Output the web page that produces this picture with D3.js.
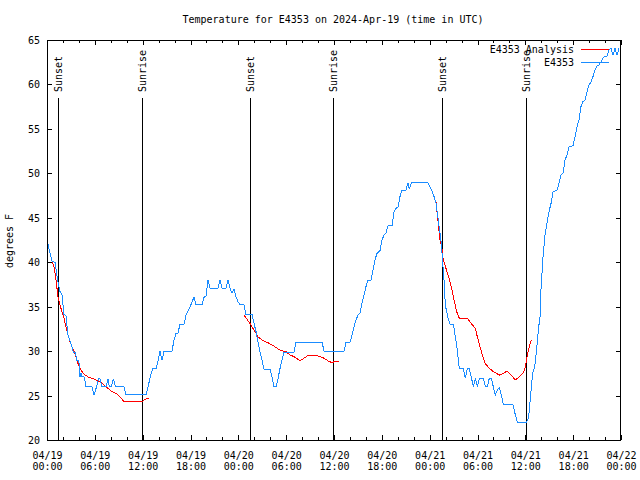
<!DOCTYPE html>
<html>
<head>
<meta charset="utf-8">
<script src="https://cdn.jsdelivr.net/npm/d3@7"></script>
<style>
  html, body { margin: 0; padding: 0; background: #fff; }
  svg { display: block; }
  text { font-family: "DejaVu Sans Mono", "Liberation Mono", monospace; font-size: 10px; fill: #000; }
</style>
</head>
<body>
<svg id="chart" width="640" height="480"></svg>
<script>
// ---- data (hours since 2024-04-19 00:00 UTC, temperatures in °F) ----
const titleText = "Temperature for E4353 on 2024-Apr-19 (time in UTC)";
const yLabelText = "degrees F";
const seriesNames = ["E4353 Analysis", "E4353"];
const seriesColors = ["#ff0000", "#1a8cff"];

const yTickValues = [20, 25, 30, 35, 40, 45, 50, 55, 60, 65];
const xMajorTickHours = [0, 6, 12, 18, 24, 30, 36, 42, 48, 54, 60, 66, 72];

const sunLabels = ["Sunset", "Sunrise", "Sunset", "Sunrise", "Sunset", "Sunrise"];
const sunHours  = [1.42, 11.96, 25.5, 35.92, 49.57, 60.03];

// observed station temperatures (blue)
const obsHours = [0.13,0.63,1.0,1.29,1.63,1.88,2.13,2.38,2.63,2.89,3.14,3.30,3.55,3.73,3.98,4.05,4.14,4.26,4.39,4.64,4.77,4.89,5.64,5.90,6.15,6.40,6.49,6.65,6.90,7.40,7.65,7.81,8.07,8.32,8.57,9.66,9.91,12.42,12.58,12.83,13.08,13.26,13.67,13.92,14.17,14.43,14.68,15.68,15.93,16.18,16.43,16.68,17.19,17.44,17.94,18.19,18.44,18.69,19.44,19.69,19.94,20.20,20.45,21.45,21.70,21.95,22.45,22.70,22.96,23.21,23.46,23.71,23.96,24.21,24.71,24.96,25.72,25.97,26.22,26.47,26.72,26.97,27.22,27.97,28.22,28.47,28.73,28.98,29.23,29.48,29.73,30.98,31.23,34.50,34.75,37.26,37.51,38.01,38.26,38.51,38.76,39.01,39.26,39.51,39.76,40.01,40.26,40.64,40.89,41.14,41.39,41.77,42.02,42.27,42.52,42.77,43.28,43.53,43.78,44.03,44.28,44.53,45.03,45.28,45.45,45.70,47.79,48.04,48.29,48.54,48.80,48.96,49.13,49.30,49.46,49.55,49.64,49.80,49.92,50.05,50.30,50.55,50.97,51.22,51.47,51.72,52.22,52.47,52.72,52.97,53.22,53.47,53.73,53.98,54.23,54.73,54.98,55.23,55.48,55.73,55.98,56.23,56.48,56.74,56.99,57.24,58.42,58.67,58.99,60.17,60.42,60.68,60.93,61.18,61.43,61.68,61.84,61.97,62.22,62.47,62.72,62.97,63.22,63.47,63.97,64.23,64.48,64.73,64.98,65.23,65.48,65.98,66.23,66.48,66.73,66.98,67.23,67.49,67.74,67.99,68.24,68.49,68.74,68.99,69.24,69.49,69.74,69.99,70.24,70.49,70.74,71.00,71.25,71.50,71.75];
const obsTemps = [42.0,40.1,40.0,38.2,36.7,36.3,34.1,34.0,31.8,31.1,30.5,29.9,29.9,29.0,29.0,28.3,27.1,27.5,27.1,27.1,26.6,26.0,26.0,25.1,25.8,26.6,26.9,26.9,26.0,26.0,26.9,26.0,26.0,26.9,26.0,26.0,25.1,25.1,25.6,26.6,27.5,28.0,28.0,28.9,30.0,29.0,30.0,30.0,31.25,32.0,32.0,33.05,33.05,34.06,34.93,35.56,36.05,35.2,35.2,36.05,36.2,38.0,37.07,37.07,38.0,37.07,37.07,38.0,37.07,36.5,36.95,36.1,35.56,35.2,35.2,34.1,34.1,33.1,32.2,31.06,29.9,29.0,27.95,27.95,27.1,26.0,26.0,26.9,28.06,29.0,29.9,29.9,31.0,31.0,30.0,30.0,31.0,31.0,31.8,32.75,33.5,34.06,34.3,35.38,36.3,37.25,38.0,38.0,39.13,40.25,41.0,41.3,42.5,43.06,43.25,44.1,44.1,45.7,46.06,46.2,47.4,48.1,48.1,48.95,48.2,48.95,48.95,48.5,48.05,47.4,46.6,45.5,44.4,43.25,42.1,41.0,39.9,38.0,35.94,34.8,33.7,33.05,33.05,31.6,30.1,28.0,28.0,26.94,28.0,28.0,27.1,26.0,26.94,26.0,26.94,26.94,26.0,26.0,26.94,26.94,26.0,25.06,25.6,25.9,25.06,24.05,24.05,23.1,22.0,22.0,22.6,25.25,27.6,28.25,30.3,32.75,33.8,37.07,40.6,43.06,44.4,45.7,46.6,47.93,48.1,48.9,49.8,50.0,51.5,52.06,53.0,53.1,54.1,55.25,56.0,57.5,58.06,58.25,59.2,59.94,60.3,60.9,61.6,62.1,62.2,62.56,62.94,63.2,63.2,63.9,64.06,63.3,64.06,63.3,64.06];

// analysis runs (red), three separate 12-hour segments
const analysis1Hours = [0.63,0.88,1.13,1.38,1.63,1.88,2.13,2.38,2.63,2.89,3.14,3.39,3.64,3.89,4.14,4.39,4.64,5.14,5.64,6.15,6.65,7.15,7.65,8.15,8.66,9.16,9.66,11.92,12.17,12.42,12.76];
const analysis1Temps = [40.06,39.5,38.0,36.1,35.2,34.4,33.7,32.75,31.8,31.06,30.5,29.94,29.4,28.6,28.06,27.7,27.4,27.1,26.94,26.75,26.56,26.2,25.8,25.44,25.25,24.87,24.3,24.3,24.5,24.6,24.7];
const analysis2Hours = [24.71,25.46,26.22,26.47,26.97,27.72,28.47,29.23,29.98,30.48,30.98,31.74,32.24,32.74,33.74,34.24,34.75,35.25,35.75,36.0,36.67];
const analysis2Temps = [34.06,33.1,32.0,31.6,31.25,30.94,30.56,30.1,29.94,29.56,29.38,28.9,29.2,29.5,29.5,29.38,29.2,28.9,28.7,28.8,28.9];
const analysis3Hours = [48.80,49.05,49.30,49.55,49.71,50.05,50.39,50.71,51.05,51.39,51.72,52.72,53.22,53.73,53.98,54.31,54.65,54.98,55.48,55.98,56.74,57.24,57.74,58.24,58.74,59.24,59.75,60.0,60.25,60.5,60.75];
const analysis3Temps = [46.8,44.56,42.5,41.5,40.25,39.3,38.3,37.25,35.75,34.44,33.7,33.7,33.1,32.56,31.6,30.5,29.4,28.6,28.06,27.7,27.3,27.5,27.76,27.3,26.75,27.1,27.57,28.25,29.56,30.5,31.3];

// ---- drawing ----
const T0 = Date.UTC(2024, 3, 19);
const toDate = h => new Date(T0 + h * 3600e3);

const svg = d3.select("#chart");
const L = 47, R = 621, T = 40, B = 440;

const x = d3.scaleUtc().domain([toDate(0), toDate(72)]).range([L, R]);
const y = d3.scaleLinear().domain([20, 65]).range([B, T]);

svg.append("rect").attr("width", 640).attr("height", 480).attr("fill", "#fff");

// title
svg.append("text").attr("x", 333).attr("y", 23).attr("text-anchor", "middle").text(titleText);

// y label
svg.append("text").attr("transform", "translate(13,241) rotate(-90)")
  .attr("text-anchor", "middle").text(yLabelText);

const majorDates = xMajorTickHours.map(toDate);
const minorDates = x.ticks(d3.utcHour.every(2)).filter(d => (d - T0) % (6 * 3600e3) !== 0);

function styleAxis(g) {
  g.select(".domain").remove();
  g.selectAll("line").attr("stroke", "#000").attr("shape-rendering", "crispEdges");
  g.attr("font-family", null).attr("font-size", null);
}

// bottom axis (major with labels)
const gb = svg.append("g").attr("transform", `translate(0,${B})`)
  .call(d3.axisBottom(x).tickValues(majorDates).tickSize(-5).tickPadding(9)
    .tickFormat(d3.utcFormat("%m/%d")))
  .call(styleAxis);
gb.selectAll(".tick text").each(function(d) {
  const t = d3.select(this);
  t.text(null).attr("dy", null).attr("y", 19);
  t.append("tspan").attr("x", 0).attr("y", 19).text(d3.utcFormat("%m/%d")(d));
  t.append("tspan").attr("x", 0).attr("y", 30).text(d3.utcFormat("%H:%M")(d));
});
svg.append("g").attr("transform", `translate(0,${B})`)
  .call(d3.axisBottom(x).tickValues(minorDates).tickSize(-3).tickFormat(""))
  .call(styleAxis);
// top axis ticks
svg.append("g").attr("transform", `translate(0,${T})`)
  .call(d3.axisTop(x).tickValues(majorDates).tickSize(-5).tickFormat(""))
  .call(styleAxis);
svg.append("g").attr("transform", `translate(0,${T})`)
  .call(d3.axisTop(x).tickValues(minorDates).tickSize(-3).tickFormat(""))
  .call(styleAxis);
// left axis
svg.append("g").attr("transform", `translate(${L},0)`)
  .call(d3.axisLeft(y).tickValues(yTickValues).tickSize(-5).tickPadding(7))
  .call(styleAxis)
  .selectAll("text").attr("dy", "0.35em");
// right axis
svg.append("g").attr("transform", `translate(${R},0)`)
  .call(d3.axisRight(y).tickValues(yTickValues).tickSize(-5).tickFormat(""))
  .call(styleAxis);

// sunrise / sunset markers
sunHours.forEach((h, i) => {
  const xx = Math.round(x(toDate(h))) + 0.5;
  svg.append("line").attr("x1", xx).attr("x2", xx).attr("y1", 98).attr("y2", B)
    .attr("stroke", "#000").attr("shape-rendering", "crispEdges");
  svg.append("text").attr("transform", `translate(${xx + 3.5},92) rotate(-90)`)
    .attr("text-anchor", "start").text(sunLabels[i]);
});

const line = d3.line().x(d => x(toDate(d[0]))).y(d => y(d[1]));

// analysis (red) first
[[analysis1Hours, analysis1Temps], [analysis2Hours, analysis2Temps], [analysis3Hours, analysis3Temps]]
  .forEach(([hs, ts]) => {
    svg.append("path").datum(d3.zip(hs, ts)).attr("d", line)
      .attr("fill", "none").attr("stroke", seriesColors[0]).attr("stroke-width", 1)
      .attr("shape-rendering", "crispEdges");
  });

// observations (blue)
svg.append("path").datum(d3.zip(obsHours, obsTemps)).attr("d", line)
  .attr("fill", "none").attr("stroke", seriesColors[1]).attr("stroke-width", 1)
  .attr("shape-rendering", "crispEdges");

// legend
seriesNames.forEach((name, i) => {
  const ly = 49 + i * 13;
  svg.append("text").attr("x", 574).attr("y", ly + 3.5).attr("text-anchor", "end").text(name);
  svg.append("line").attr("x1", 581).attr("x2", 609).attr("y1", ly + 0.5).attr("y2", ly + 0.5)
    .attr("stroke", seriesColors[i]).attr("shape-rendering", "crispEdges");
});

// frame
svg.append("rect").attr("x", L + 0.5).attr("y", T + 0.5).attr("width", R - L - 1).attr("height", B - T)
  .attr("fill", "none").attr("stroke", "#000").attr("shape-rendering", "crispEdges");
</script>
</body>
</html>
